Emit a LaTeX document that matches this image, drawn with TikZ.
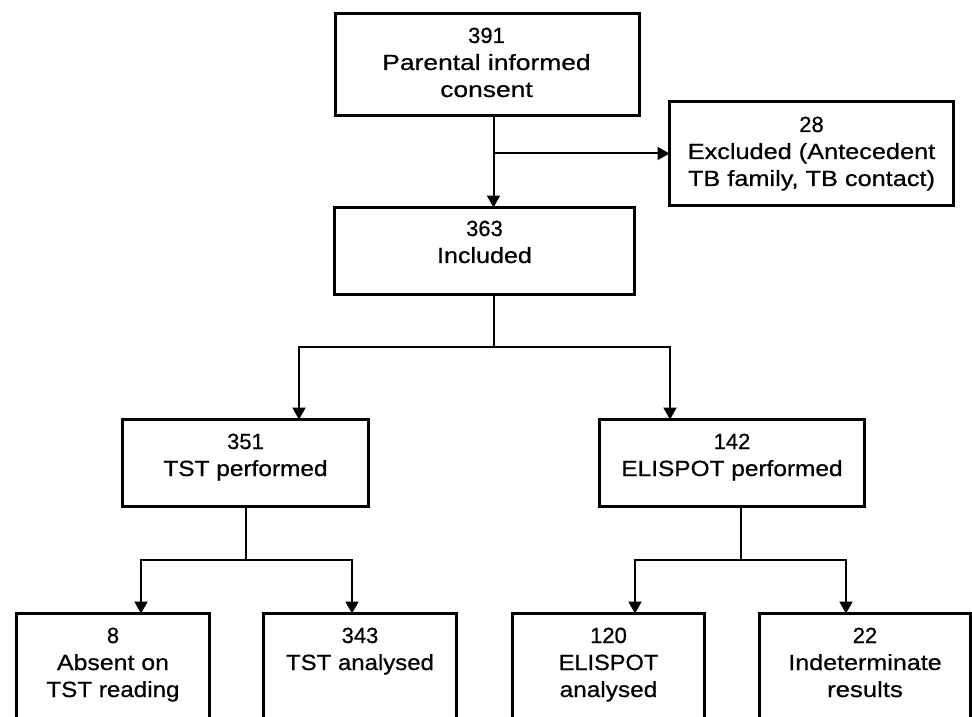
\documentclass[tikz,border=0pt]{standalone}
\usepackage{fontspec}
\usepackage{graphicx}
\setmainfont{Liberation Sans}[FakeBold=0.6]
\usetikzlibrary{arrows.meta,calc}
\newcommand{\sx}[2]{\scalebox{#1}[1]{#2}}
\newcommand{\lines}[1]{\begin{tabular}[t]{@{}c@{}}#1\end{tabular}}
\begin{document}
\begin{tikzpicture}[x=0.75pt,y=-0.75pt,
  font=\fontsize{16.5pt}{20.25pt}\selectfont,
  box/.style={draw, rectangle, line width=2.25pt, outer sep=0pt, inner sep=0pt},
  bx/.style n args={2}{box, minimum width=#1*0.75pt, minimum height=#2*0.75pt},
  conn/.style={line width=1.5pt},
  arr/.style={conn, -{Triangle[length=9pt,width=9.75pt]}},
  txt/.style={inner sep=0pt, anchor=base}]
\useasboundingbox (0,0) rectangle (972,717);
\clip (0,0) rectangle (972,717);
% boxes
\node[bx={304}{102}] (top) at (487.5,64.5) {};
\node[bx={284}{104}] (excl) at (811.5,153.5) {};
\node[bx={300}{87}] (incl) at (484.5,251) {};
\node[bx={246}{87}] (tst) at (245.5,463) {};
\node[bx={265}{87}] (elis) at (732,463) {};
\node[bx={193}{126.5}] (absent) at (113,676.75) {};
\node[bx={193}{126.5}] (tstan) at (360,676.75) {};
\node[bx={192}{126.5}] (elan) at (608.5,676.75) {};
\node[bx={211}{126.5}] (indet) at (865,676.75) {};
% texts
\node[txt] (ttop) at ($(top.north)+(-1,29.5)$) {\lines{391\\\sx{1.2}{Parental informed}\\\sx{1.2}{consent}}};
\node[txt] (texcl) at ($(excl.north)+(0,30.5)$) {\lines{28\\\sx{1.15}{Excluded (Antecedent}\\\sx{1.15}{TB family, TB contact)}}};
\node[txt] (tincl) at ($(incl.north)+(0,28.5)$) {\lines{363\\\sx{1.14}{Included}}};
\node[txt] (ttst) at ($(tst.north)+(0,29.5)$) {\lines{351\\\sx{1.11}{TST performed}}};
\node[txt] (telis) at ($(elis.north)+(0,29.5)$) {\lines{142\\\sx{1.11}{ELISPOT performed}}};
\node[txt] (tabs) at ($(absent.north)+(0,29.5)$) {\lines{8\\\sx{1.13}{Absent on}\\\sx{1.1}{TST reading}}};
\node[txt] (ttstan) at ($(tstan.north)+(0,29.5)$) {\lines{343\\\sx{1.09}{TST analysed}}};
\node[txt] (telan) at ($(elan.north)+(0,29.5)$) {\lines{120\\\sx{1.07}{ELISPOT}\\\sx{1.11}{analysed}}};
\node[txt] (tindet) at ($(indet.north)+(0,29.5)$) {\lines{22\\\sx{1.14}{Indeterminate}\\\sx{1.17}{results}}};
% junction coordinates
\coordinate (ja) at (493.5,153.5);
\coordinate (jb) at (493.5,347);
\coordinate (jbl) at (299,347);
\coordinate (jbr) at (670,347);
\coordinate (jc) at (246,560);
\coordinate (jcl) at (141,560);
\coordinate (jcr) at (352,560);
\coordinate (jd) at (741,560);
\coordinate (jdl) at (635,560);
\coordinate (jdr) at (846,560);
% connectors
\draw[arr] (top.south -| ja) -- (incl.north -| ja);
\draw[arr] (ja) -- (excl.west);
\draw[conn] (incl.south -| jb) -- (jb);
\draw[arr] (jb) -| (tst.north -| jbl);
\draw[arr] (jb) -| (elis.north -| jbr);
\draw[conn] (tst.south -| jc) -- (jc);
\draw[arr] (jc) -| (absent.north -| jcl);
\draw[arr] (jc) -| (tstan.north -| jcr);
\draw[conn] (elis.south -| jd) -- (jd);
\draw[arr] (jd) -| (elan.north -| jdl);
\draw[arr] (jd) -| (indet.north -| jdr);
\end{tikzpicture}
\end{document}
